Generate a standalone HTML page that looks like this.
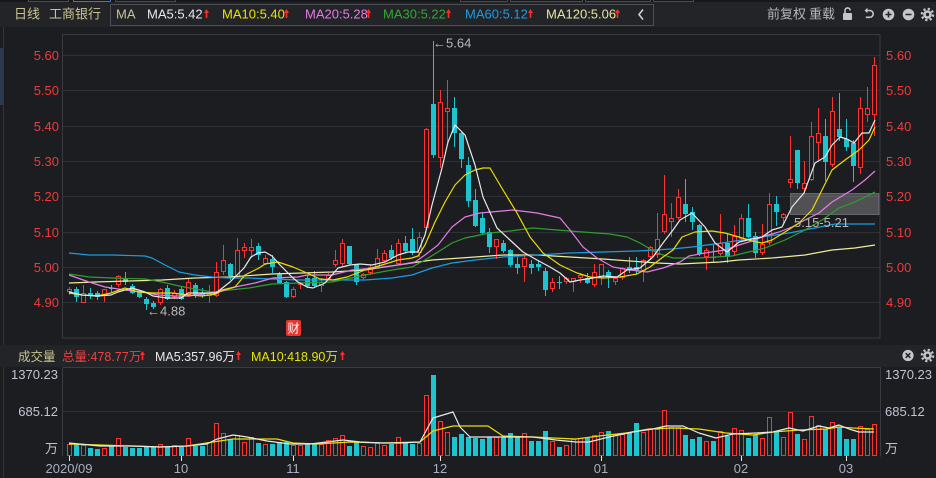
<!DOCTYPE html>
<html><head><meta charset="utf-8"><style>
html,body{margin:0;padding:0;background:#1c1d21;overflow:hidden}
svg{display:block}
text{font-family:"Liberation Sans","Noto Sans CJK SC",sans-serif}
</style></head><body>
<svg width="936" height="478" viewBox="0 0 936 478" xmlns="http://www.w3.org/2000/svg">
<defs>
<path id="up" d="M0 4L2.5 0L5 4H3.3V9H1.7V4Z" fill="#ff2a2a"/>
</defs>
<rect width="936" height="478" fill="#1c1d21"/>
<!-- top tabs strip -->
<rect x="0" y="0" width="936" height="2" fill="#16171a"/>
<path d="M28.5 0V1.5H68.5V0M115.5 0V1.5H175.5V0M460.5 0V1.5H507.5V0M510.5 0V1.5H582.5V0M585.5 0V1.5H650.5V0M653.5 0V1.5H693.5V0" stroke="#4a4b50" fill="none"/>
<path d="M73.5 0V1.5H110.5V0" stroke="#2a7fd4" fill="none"/>
<!-- header band -->
<rect x="0" y="2" width="936" height="25" fill="#232428"/>
<rect x="110.5" y="4.5" width="543" height="21" fill="none" stroke="#4e4f54"/>
<g font-size="13">
<text x="14" y="18.5" fill="#c9c38f">日线</text>
<text x="49" y="18.5" fill="#c9c38f">工商银行</text>
<text x="116" y="18.5" fill="#c9c38f">MA</text>
<text x="147" y="18.5" fill="#e8e8e8">MA5:5.42</text>
<text x="222" y="18.5" fill="#e6e600">MA10:5.40</text>
<text x="305" y="18.5" fill="#e47ce4">MA20:5.28</text>
<text x="383" y="18.5" fill="#33a833">MA30:5.22</text>
<text x="465" y="18.5" fill="#1e9be0">MA60:5.12</text>
<text x="546" y="18.5" fill="#e6e6a0">MA120:5.06</text>
<text x="767" y="18.5" fill="#b4b6bc">前复权</text>
<text x="809" y="18.5" fill="#b4b6bc">重载</text>
</g>
<use href="#up" x="204" y="9"/>
<use href="#up" x="284" y="9"/>
<use href="#up" x="366" y="9"/>
<use href="#up" x="446" y="9"/>
<use href="#up" x="528" y="9"/>
<use href="#up" x="615" y="9"/>
<path d="M643 9.5L639 14.5L643 19.5" stroke="#cfcfcf" stroke-width="1.6" fill="none"/>
<!-- icons -->
<g fill="#c4c6cc" stroke="none">
<rect x="843" y="13" width="9" height="7" rx="1"/>
<path d="M845 13V10.5a2.6 2.6 0 0 1 5.2 0" stroke="#c4c6cc" stroke-width="1.6" fill="none"/>
<path d="M866 10.5h3.8a3.4 3.4 0 0 1 0 6.8h-4" stroke="#c4c6cc" stroke-width="1.6" fill="none"/>
<path d="M864.5 10.5L867.5 7.8V13.2Z"/>
<circle cx="888.5" cy="14.5" r="5.8"/>
<circle cx="908.5" cy="14.5" r="5.8"/>
<circle cx="927.5" cy="14.5" r="4.3"/>
<circle cx="927.5" cy="14.5" r="5.6" fill="none" stroke="#c4c6cc" stroke-width="2.4" stroke-dasharray="2.2 2.2"/>
</g>
<path d="M885.5 14.5h6M888.5 11.5v6M905.5 14.5h6" stroke="#232428" stroke-width="1.6"/>
<circle cx="927.5" cy="14.5" r="1.7" fill="#232428"/>
<!-- left sidebar edge -->
<path d="M3.5 27V478" stroke="#34353a"/>
<rect x="0" y="48" width="3" height="57" fill="#2c3a4e"/>
<!-- main plot frame + grid -->
<g stroke="#303136" fill="none">
<path d="M62 55.5H880M62 90.5H880M62 126.5H880M62 161.5H880M62 196.5H880M62 232.5H880M62 267.5H880M62 302.5H880"/>
</g>
<rect x="62.5" y="34.5" width="817.5" height="303.5" fill="none" stroke="#3a3b40"/>
<g font-size="13" fill="#f03a3a">
<text x="59" y="60" text-anchor="end">5.60</text>
<text x="59" y="95" text-anchor="end">5.50</text>
<text x="59" y="131" text-anchor="end">5.40</text>
<text x="59" y="166" text-anchor="end">5.30</text>
<text x="59" y="201" text-anchor="end">5.20</text>
<text x="59" y="237" text-anchor="end">5.10</text>
<text x="59" y="272" text-anchor="end">5.00</text>
<text x="59" y="307" text-anchor="end">4.90</text>
<text x="886" y="60">5.60</text>
<text x="886" y="95">5.50</text>
<text x="886" y="131">5.40</text>
<text x="886" y="166">5.30</text>
<text x="886" y="201">5.20</text>
<text x="886" y="237">5.10</text>
<text x="886" y="272">5.00</text>
<text x="886" y="307">4.90</text>
</g>
<!-- candles -->
<path stroke="#ff3232" fill="none" d="M69.5 287V295M83.5 285V303M104.5 289V302M118.5 275V287M160.5 288V305M174.5 290V299M188.5 278V297M209.5 285V303M216.5 262V297M223.5 245V275M237.5 238V278M244.5 243V258M251.5 239V258M265.5 255V265M293.5 287V298M300.5 282V289M321.5 278V292M328.5 273V280M335.5 250V267M342.5 239V266M363.5 273V280M370.5 265V275M377.5 249V268M384.5 250V262M398.5 239V265M419.5 232V257M426.5 128V230M440.5 90V168M447.5 80V142M496.5 239V259M524.5 255V282M552.5 278V292M566.5 277V284M573.5 278V292M580.5 273V283M594.5 264V287M601.5 264V285M615.5 277V285M622.5 267V280M643.5 259V282M650.5 246V260M657.5 213V258M664.5 175V234M671.5 203V237M678.5 189V220M706.5 248V270M720.5 214V257M734.5 225V255M741.5 214V241M762.5 224V255M769.5 193V245M783.5 213V225M790.5 136V188M804.5 161V193M811.5 122V181M818.5 108V160M832.5 97V167M860.5 97V174M867.5 87V122M874.5 57V136"/>
<path stroke="#ff3232" fill="#1c1d21" d="M67.5 289.5h4v2h-4zM81.5 293.5h4v9h-4zM102.5 289.5h4v6h-4zM116.5 276.5h4v8h-4zM158.5 289.5h4v13h-4zM172.5 293.5h4v3h-4zM186.5 282.5h4v12h-4zM207.5 293.5h4v2h-4zM214.5 272.5h4v23h-4zM221.5 260.5h4v11h-4zM235.5 250.5h4v26h-4zM242.5 247.5h4v3h-4zM249.5 247.5h4v3h-4zM263.5 258.5h4v5h-4zM291.5 289.5h4v7h-4zM298.5 283.5h4v1h-4zM319.5 282.5h4v3h-4zM326.5 275.5h4v3h-4zM333.5 260.5h4v4h-4zM340.5 243.5h4v20h-4zM361.5 274.5h4v3h-4zM368.5 267.5h4v5h-4zM375.5 258.5h4v8h-4zM382.5 253.5h4v7h-4zM396.5 243.5h4v20h-4zM417.5 237.5h4v15h-4zM424.5 129.5h4v98h-4zM438.5 102.5h4v55h-4zM445.5 108.5h4v3h-4zM494.5 239.5h4v7h-4zM522.5 258.5h4v8h-4zM550.5 282.5h4v6h-4zM564.5 278.5h4v3h-4zM571.5 278.5h4v3h-4zM578.5 275.5h4v2h-4zM592.5 272.5h4v12h-4zM599.5 264.5h4v13h-4zM613.5 278.5h4v3h-4zM620.5 268.5h4v9h-4zM641.5 260.5h4v10h-4zM648.5 247.5h4v9h-4zM655.5 239.5h4v15h-4zM662.5 214.5h4v17h-4zM669.5 218.5h4v3h-4zM676.5 197.5h4v20h-4zM704.5 250.5h4v6h-4zM718.5 243.5h4v10h-4zM732.5 236.5h4v15h-4zM739.5 218.5h4v20h-4zM760.5 244.5h4v8h-4zM767.5 204.5h4v38h-4zM781.5 214.5h4v3h-4zM788.5 179.5h4v3h-4zM802.5 183.5h4v5h-4zM809.5 136.5h4v43h-4zM816.5 133.5h4v9h-4zM830.5 111.5h4v53h-4zM858.5 108.5h4v59h-4zM865.5 108.5h4v6h-4zM872.5 65.5h4v49h-4z"/>
<path stroke="#1ec3d0" fill="none" d="M76.5 287V302M90.5 288V299M97.5 291V300M111.5 285V292M125.5 272V285M132.5 284V294M139.5 290V298M146.5 297V310M153.5 301V309M167.5 285V300M181.5 287V300M195.5 283V298M202.5 288V298M230.5 263V280M258.5 243V260M272.5 255V273M279.5 272V284M286.5 281V298M307.5 275V288M314.5 271V287M349.5 246V265M356.5 264V285M391.5 245V260M405.5 236V253M412.5 228V255M433.5 41V158M454.5 97V147M461.5 132V168M468.5 157V207M475.5 189V227M482.5 212V235M489.5 228V253M503.5 240V253M510.5 249V267M517.5 257V274M531.5 260V274M538.5 260V271M545.5 268V296M559.5 276V289M587.5 273V284M608.5 270V288M629.5 257V273M636.5 257V274M685.5 179V222M692.5 207V230M699.5 224V256M713.5 244V263M727.5 233V263M748.5 204V238M755.5 232V258M776.5 196V226M797.5 150V189M825.5 119V181M839.5 93V141M846.5 119V151M853.5 140V182"/>
<path fill="#1ec3d0" d="M74 289h5v8h-5zM88 293h5v2h-5zM95 293h5v4h-5zM109 288h5v1h-5zM123 278h5v4h-5zM130 286h5v7h-5zM137 292h5v5h-5zM144 299h5v5h-5zM151 303h5v4h-5zM165 288h5v11h-5zM179 289h5v10h-5zM193 285h5v10h-5zM200 293h5v3h-5zM228 264h5v12h-5zM256 246h5v9h-5zM270 259h5v8h-5zM277 274h5v9h-5zM284 282h5v15h-5zM305 278h5v8h-5zM312 278h5v8h-5zM347 246h5v18h-5zM354 264h5v18h-5zM389 250h5v8h-5zM403 243h5v8h-5zM410 239h5v14h-5zM431 104h5v51h-5zM452 108h5v25h-5zM459 133h5v26h-5zM466 165h5v36h-5zM473 200h5v26h-5zM480 218h5v15h-5zM487 232h5v15h-5zM501 243h5v8h-5zM508 250h5v15h-5zM515 264h5v4h-5zM529 264h5v4h-5zM536 264h5v3h-5zM543 271h5v19h-5zM557 282h5v1h-5zM585 278h5v5h-5zM606 272h5v5h-5zM627 267h5v2h-5zM634 267h5v4h-5zM683 204h5v10h-5zM690 212h5v10h-5zM697 225h5v29h-5zM711 257h5v1h-5zM725 243h5v14h-5zM746 218h5v19h-5zM753 236h5v17h-5zM774 204h5v8h-5zM795 150h5v33h-5zM823 136h5v26h-5zM837 129h5v8h-5zM844 139h5v8h-5zM851 143h5v23h-5z"/>
<!-- zone box -->
<rect x="790.5" y="193.5" width="88.5" height="21" fill="#9a9a9a" fill-opacity="0.42" stroke="#8a8a8a" stroke-opacity="0.6"/>
<!-- MA lines -->
<g fill="none" stroke-width="1.2" stroke-linejoin="round">
<polyline stroke="#ecec9c" points="69,283 95,282 129,281 162,280 195,278 229,277 272,274 332,272 365,270 398,265 432,260 475,257 503,255 537,255 570,257 603,259 630,261 657,263 680,264 720,262 739,260 772,258 805,255 832,250 855,248 875,245"/>
<polyline stroke="#1a9de0" points="69,253 89,255 112,255 145,256 152,258 165,265 179,272 195,275 212,277 229,278 249,278 272,279 298,280 332,280 365,280 392,278 412,275 432,268 452,263 475,260 503,257 537,255 570,253 603,252 637,251 672,249 692,247 722,243 755,238 789,233 815,228 835,224 875,224"/>
<polyline stroke="#2f9e2f" points="69,274 89,277 112,278 145,279 162,282 179,286 195,289 212,292 229,290 249,288 272,284 298,283 332,282 365,275 392,270 412,267 425,260 438,252 452,243 465,238 475,236 490,233 510,231 533,228 557,230 583,232 610,234 627,237 640,243 657,253 673,258 699,258 732,256 765,248 785,240 805,230 822,220 839,208 855,202 875,192"/>
<polyline stroke="#e47ce4" points="69,275 89,282 105,287 125,290 142,292 159,295 175,296 189,296 202,294 219,292 235,287 255,283 273,278 298,277 307,275 332,275 352,270 375,268 398,265 415,262 425,255 438,245 452,227 465,217 480,213 513,210 537,213 560,218 570,230 583,247 597,258 613,267 630,270 647,272 663,268 680,262 689,256 705,253 725,250 739,245 752,241 765,236 779,232 792,227 805,220 819,213 832,202 852,190 865,180 875,171"/>
<polyline stroke="#ecdc00" points="69,293 82,295 97,296 111,293 125,288 139,292 153,293 172,293 189,295 202,296 216,294 222,290 235,287 245,275 259,268 265,264 278,262 293,267 307,273 320,279 333,280 347,277 365,270 382,265 398,260 412,258 418,256 425,245 435,222 445,202 455,185 465,175 475,170 483,168 490,168 503,190 517,213 530,237 543,253 560,265 577,273 590,277 603,278 620,277 637,274 650,267 663,257 673,250 682,237 695,232 712,231 725,233 739,237 752,241 762,243 772,240 785,232 799,223 812,210 822,190 832,170 845,160 859,150 869,140 875,127"/>
<polyline stroke="#e8e8e8" points="69,292 82,295 97,296 111,295 118,292 132,288 145,292 153,296 167,298 181,298 188,293 202,293 216,293 230,282 244,268 251,257 258,253 265,252 272,256 280,265 293,278 298,282 307,287 313,288 325,283 338,268 350,265 360,264 372,265 385,262 398,255 408,252 418,252 425,235 432,205 442,168 448,142 455,125 465,135 475,165 483,197 497,228 510,240 523,252 537,260 550,267 560,273 570,282 580,280 593,278 603,276 617,277 627,270 640,268 653,257 663,243 673,230 680,220 692,213 705,227 715,243 727,252 739,242 752,239 762,237 772,230 782,227 792,207 804,193 815,163 825,157 832,145 840,137 847,139 854,143 862,133 869,133 875,120"/>
</g>
<g font-size="13" fill="#b8b8b8">
<text x="433" y="47.5">←5.64</text>
<text x="147" y="315.5">←4.88</text>
<text x="794" y="227">5.15-5.21</text>
</g>
<rect x="286" y="320" width="15" height="16" rx="2" fill="#e8352e"/>
<text x="293.5" y="332.5" font-size="12" fill="#ffffff" text-anchor="middle">财</text>
<!-- volume header -->
<rect x="0" y="345" width="936" height="22" fill="#232428"/>
<g font-size="12.5">
<text x="18" y="361" fill="#c9c38f">成交量</text>
<text x="62" y="361" fill="#f04040">总量:478.77万</text>
<text x="155" y="361" fill="#e8e8e8">MA5:357.96万</text>
<text x="251" y="361" fill="#e6e600">MA10:418.90万</text>
</g>
<use href="#up" x="140" y="351"/>
<use href="#up" x="236" y="351"/>
<use href="#up" x="340" y="351"/>
<circle cx="908" cy="355.5" r="5.6" fill="#c4c6cc"/>
<path d="M905.7 353.2l4.6 4.6M910.3 353.2l-4.6 4.6" stroke="#232428" stroke-width="1.5"/>
<circle cx="927.5" cy="355.5" r="4.3" fill="#c4c6cc"/>
<circle cx="927.5" cy="355.5" r="5.6" fill="none" stroke="#c4c6cc" stroke-width="2.4" stroke-dasharray="2.2 2.2"/>
<circle cx="927.5" cy="355.5" r="1.7" fill="#232428"/>
<!-- volume plot -->
<path d="M62 411.5H880" stroke="#303136"/>
<path d="M62.5 367.5H880.5V456.5M62.5 367.5V456.5" stroke="#3a3b40" fill="none"/>
<g font-size="13" fill="#c0c4d0">
<text x="58" y="379" text-anchor="end">1370.23</text>
<text x="58" y="416" text-anchor="end">685.12</text>
<text x="58" y="453" text-anchor="end">万</text>
<text x="885" y="379">1370.23</text>
<text x="885" y="416">685.12</text>
<text x="885" y="453">万</text>
</g>
<path fill="#1ec3d0" d="M74 444h5v12h-5zM88 448h5v8h-5zM95 449h5v7h-5zM109 446h5v10h-5zM123 447h5v9h-5zM130 448h5v8h-5zM137 448h5v8h-5zM144 447h5v9h-5zM151 447h5v9h-5zM165 447h5v9h-5zM179 447h5v9h-5zM193 446h5v10h-5zM200 446h5v10h-5zM228 439h5v17h-5zM256 443h5v13h-5zM270 444h5v12h-5zM277 442h5v14h-5zM284 442h5v14h-5zM305 444h5v12h-5zM312 444h5v12h-5zM347 446h5v10h-5zM354 442h5v14h-5zM389 444h5v12h-5zM403 442h5v14h-5zM410 444h5v12h-5zM431 375h5v81h-5zM452 437h5v19h-5zM459 434h5v22h-5zM466 437h5v19h-5zM473 438h5v18h-5zM480 439h5v17h-5zM487 437h5v19h-5zM501 437h5v19h-5zM508 433h5v23h-5zM515 437h5v19h-5zM529 441h5v15h-5zM536 441h5v15h-5zM543 431h5v25h-5zM557 447h5v9h-5zM585 438h5v18h-5zM606 431h5v25h-5zM627 433h5v23h-5zM634 423h5v33h-5zM683 435h5v21h-5zM690 439h5v17h-5zM697 437h5v19h-5zM711 441h5v15h-5zM725 436h5v20h-5zM746 438h5v18h-5zM753 435h5v21h-5zM774 431h5v25h-5zM795 434h5v22h-5zM823 429h5v27h-5zM837 427h5v29h-5zM844 439h5v17h-5zM851 439h5v17h-5z"/>
<path stroke="#ff3232" fill="#1c1d21" d="M67.5 444.5h4v11h-4zM81.5 445.5h4v10h-4zM102.5 448.5h4v7h-4zM116.5 438.5h4v17h-4zM158.5 444.5h4v11h-4zM172.5 445.5h4v10h-4zM186.5 438.5h4v17h-4zM207.5 442.5h4v13h-4zM214.5 423.5h4v32h-4zM221.5 433.5h4v22h-4zM235.5 435.5h4v20h-4zM242.5 442.5h4v13h-4zM249.5 437.5h4v18h-4zM263.5 444.5h4v11h-4zM291.5 445.5h4v10h-4zM298.5 445.5h4v10h-4zM319.5 444.5h4v11h-4zM326.5 440.5h4v15h-4zM333.5 438.5h4v17h-4zM340.5 435.5h4v20h-4zM361.5 446.5h4v9h-4zM368.5 447.5h4v8h-4zM375.5 443.5h4v12h-4zM382.5 445.5h4v10h-4zM396.5 437.5h4v18h-4zM417.5 443.5h4v12h-4zM424.5 395.5h4v60h-4zM438.5 421.5h4v34h-4zM445.5 432.5h4v23h-4zM494.5 437.5h4v18h-4zM522.5 433.5h4v22h-4zM550.5 441.5h4v14h-4zM564.5 445.5h4v10h-4zM571.5 439.5h4v16h-4zM578.5 438.5h4v17h-4zM592.5 435.5h4v20h-4zM599.5 432.5h4v23h-4zM613.5 434.5h4v21h-4zM620.5 434.5h4v21h-4zM641.5 432.5h4v23h-4zM648.5 429.5h4v26h-4zM655.5 429.5h4v26h-4zM662.5 410.5h4v45h-4zM669.5 427.5h4v28h-4zM676.5 427.5h4v28h-4zM704.5 441.5h4v14h-4zM718.5 431.5h4v24h-4zM732.5 428.5h4v27h-4zM739.5 430.5h4v25h-4zM760.5 438.5h4v17h-4zM767.5 417.5h4v38h-4zM781.5 437.5h4v18h-4zM788.5 412.5h4v43h-4zM802.5 439.5h4v16h-4zM809.5 416.5h4v39h-4zM816.5 425.5h4v30h-4zM830.5 422.5h4v33h-4zM858.5 426.5h4v29h-4zM865.5 429.5h4v26h-4zM872.5 424.5h4v31h-4z"/>
<g fill="none" stroke-width="1.2" stroke-linejoin="round">
<polyline stroke="#ecdc00" points="69,444 100,445 160,447 187,446 213,442 233,439 277,439 293,443 317,444 350,442 383,443 420,442 433,431 453,426 470,426 488,426 503,436 533,437 553,438 576,439 599,436 626,433 649,429 673,428 699,429 726,433 753,435 773,432 799,430 826,429 839,427 853,428 874,429"/>
<polyline stroke="#e8e8e8" points="69,443 100,446 133,446 160,447 187,446 207,444 217,439 233,435 247,437 267,441 290,444 310,444 327,442 343,440 360,442 383,443 400,443 420,442 433,418 453,412 460,427 470,437 499,437 533,437 556,440 576,442 589,442 609,437 633,432 653,429 666,426 683,426 699,433 716,438 733,434 756,433 773,432 789,428 803,431 819,426 829,428 839,425 849,429 859,432 874,432"/>
</g>
<!-- x axis -->
<path d="M69.5 456V461M181.5 456V461M293.5 456V461M440.5 456V461M601.5 456V461M741.5 456V461M846.5 456V461" stroke="#e8e8e8"/>
<g font-size="13" fill="#a8b0c0" text-anchor="middle">
<text x="69" y="473">2020/09</text>
<text x="181" y="473">10</text>
<text x="293" y="473">11</text>
<text x="440" y="473">12</text>
<text x="601" y="473">01</text>
<text x="741" y="473">02</text>
<text x="846" y="473">03</text>
</g>
</svg>
</body></html>
